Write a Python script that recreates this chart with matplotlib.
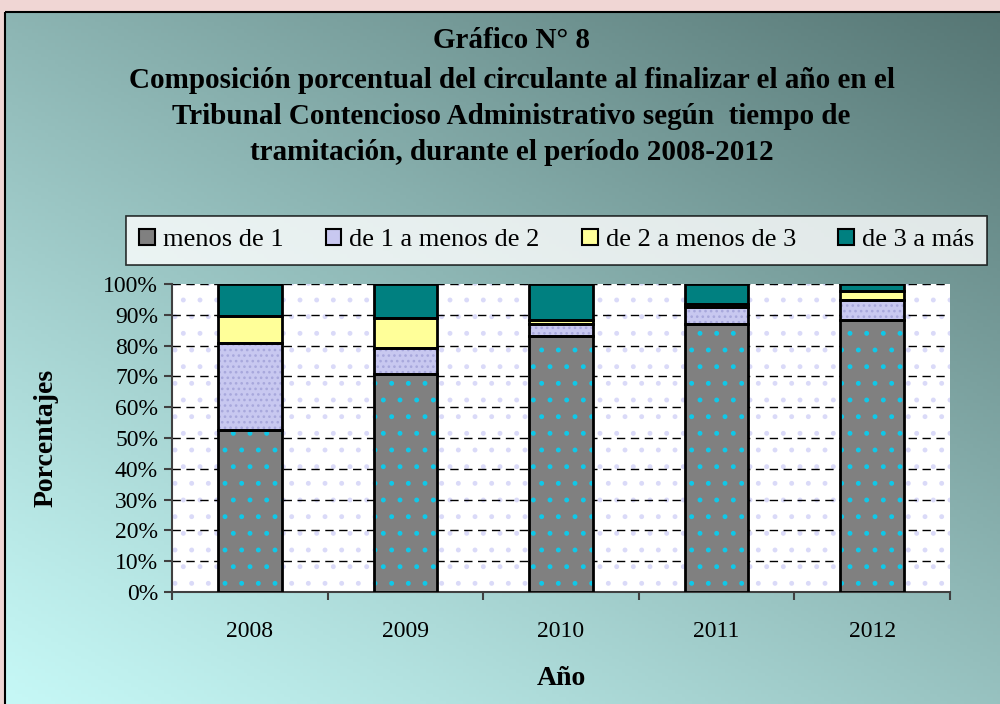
import numpy as np
import matplotlib
matplotlib.use("Agg")
import matplotlib.pyplot as plt
from matplotlib.patches import Patch, Rectangle

years = ["2008", "2009", "2010", "2011", "2012"]
series_names = ["menos de 1", "de 1 a menos de 2", "de 2 a menos de 3", "de 3 a más"]
menos_1 = [52.6, 70.8, 83.1, 87.0, 88.3]
de_1_a_2 = [28.2, 8.5, 3.9, 5.6, 6.5]
de_2_a_3 = [8.8, 9.6, 1.3, 0.8, 2.8]
de_3_mas = [10.4, 11.1, 11.7, 6.6, 2.4]
series_values = [menos_1, de_1_a_2, de_2_a_3, de_3_mas]

face_colors = ["#808080", "#c8c8f0", "#ffff99", "#008080"]
hatch_colors = ["#10c8e8", "#a8a8dc", None, None]
hatch_styles = [".", "...", None, None]

plt.rcParams["font.family"] = ["Liberation Serif", "DejaVu Serif"]
plt.rcParams["hatch.linewidth"] = 1.1

fig = plt.figure(figsize=(10, 7.04), dpi=100)

# background
bg = fig.add_axes([0, 0, 1, 1], zorder=-10)
bg.set_xlim(0, 1000)
bg.set_ylim(704, 0)
bg.axis("off")
h, w = 200, 300
u = np.linspace(0, 1, w)[None, :]
v = np.linspace(1, 0, h)[:, None]
t = np.clip(0.55 * v + 0.45 * u, 0, 1) ** 1.1
light = np.array([0xc6, 0xf8, 0xf6]) / 255
dark = np.array([0x56, 0x76, 0x74]) / 255
img = light[None, None, :] * (1 - t[..., None]) + dark[None, None, :] * t[..., None]
bg.add_patch(Rectangle((0, 0), 1000, 704, color="#f0d6d4", zorder=0))
bg.imshow(img, extent=(5, 1000, 704, 12), aspect="auto", zorder=1)
bg.add_patch(Rectangle((5, 12), 1000, 700, fill=False, edgecolor="black", linewidth=1.5, zorder=2))

ax = fig.add_axes([0.172, 0.159, 0.778, 0.4375])
ax.set_facecolor("white")
ax.patch.set_hatch(".")
ax.patch.set_edgecolor("#dadaf8")

x = np.arange(len(years))
bw = 0.41
bottom = np.zeros(len(years))
for vals, fc, hc, hs in zip(series_values, face_colors, hatch_colors, hatch_styles):
    vals = np.array(vals)
    if hc is not None:
        ax.bar(x, vals, bw, bottom=bottom, color=fc, edgecolor=hc, hatch=hs,
               linewidth=0, zorder=3)
    else:
        ax.bar(x, vals, bw, bottom=bottom, color=fc, linewidth=0, zorder=3)
    ax.bar(x, vals, bw, bottom=bottom, fill=False, edgecolor="black", linewidth=2, zorder=4)
    bottom += vals

ax.set_xlim(-0.5, len(years) - 0.5)
ax.set_ylim(0, 100)
ax.set_yticks(np.arange(0, 101, 10))
ax.set_yticklabels([f"{v}%" for v in range(0, 101, 10)], fontsize=17)
ax.yaxis.grid(True, linestyle=(0, (6, 4)), color="black", linewidth=1, zorder=1)
ax.set_axisbelow(True)
ax.set_xticks(x)
ax.set_xticklabels(years, fontsize=17)
ax.set_xticks(np.arange(-0.5, len(years)), minor=True)
ax.tick_params(axis="x", which="major", length=0, pad=21)
ax.tick_params(axis="x", which="minor", length=6, width=1.5, color="#404040")
ax.tick_params(axis="y", length=6, width=1.5, color="#404040", direction="out", pad=4)
for s in ["top", "right"]:
    ax.spines[s].set_visible(False)
for s in ["left", "bottom"]:
    ax.spines[s].set_color("#404040")
    ax.spines[s].set_linewidth(1.5)

ax.set_ylabel("Porcentajes", fontsize=20, fontweight="bold", labelpad=32)
ax.set_xlabel("Año", fontsize=20, fontweight="bold", labelpad=17)

handles = [Patch(facecolor=fc, edgecolor="black", linewidth=1.5) for fc in face_colors]
leg = fig.legend(handles, series_names, loc="center", bbox_to_anchor=(0.5565, 0.659),
                 ncol=4, fontsize=19, frameon=True, fancybox=False, edgecolor="black",
                 handlelength=0.6, handleheight=0.6, handletextpad=0.3, columnspacing=1.6,
                 borderpad=0.5, borderaxespad=0)
leg.get_frame().set_linewidth(1.2)

title_lines = ["Gráfico N° 8",
               "Composición porcentual del circulante al finalizar el año en el",
               "Tribunal Contencioso Administrativo según  tiempo de",
               "tramitación, durante el período 2008-2012"]
ys = [40, 80, 116, 153]
for line, yy in zip(title_lines, ys):
    fig.text(0.5115, 1 - yy / 704, line, ha="center", va="center", fontsize=21, fontweight="bold")

fig.savefig("out.png", dpi=100)
